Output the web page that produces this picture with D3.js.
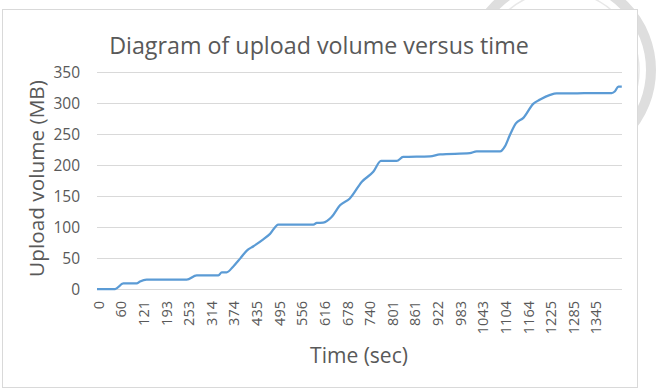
<!DOCTYPE html>
<html>
<head>
<meta charset="utf-8">
<script src="https://cdn.jsdelivr.net/npm/d3@7"></script>
<style>
  body { margin: 0; background: #fff; }
  text { font-family: "Open Sans", sans-serif; fill: #595959; }
</style>
</head>
<body>
<div id="chart"></div>
<script>
// category labels shown on the x axis (seconds)
var timeLabels = [0, 60, 121, 193, 253, 314, 374, 435, 495, 556, 616, 678, 740, 801,
                  861, 922, 983, 1043, 1104, 1164, 1225, 1285, 1345];
var yTicks = [0, 50, 100, 150, 200, 250, 300, 350];

// upload curve
var timeSec = [0, 48, 70, 106, 115, 135, 251, 278, 336, 345,
               358, 375, 394, 412, 430, 456, 474, 496, 590, 599,
               616, 639, 662, 689, 722, 753, 774, 816, 833, 905,
               932, 1012, 1030, 1093, 1106, 1119, 1135, 1155, 1182, 1200,
               1227, 1244, 1390, 1399, 1408, 1417];
var volumeMB = [0, 0, 9, 9, 12, 15, 15, 22, 22, 27,
                27, 36, 49, 62, 69, 80, 89, 104, 104, 106.5,
                107, 116, 135, 146, 173, 189, 206.5, 206.5, 213, 214,
                217, 219, 222, 222, 230, 248, 267, 276, 299, 305.5,
                313, 315.5, 316, 319, 326.5, 326.5];

var data = timeSec.map(function (t, i) { return {t: t, v: volumeMB[i]}; });

var W = 656, H = 389;
var plotLeft = 97, plotRight = 622, plotTop = 72, plotBottom = 289;
var step = 22.62;

var svg = d3.select("#chart").append("svg")
    .attr("width", W)
    .attr("height", H);

// faint seal behind the chart box
svg.append("circle")
    .attr("cx", 560).attr("cy", 70).attr("r", 91)
    .style("fill", "none")
    .style("stroke", "#dedede")
    .style("stroke-width", 10);
svg.append("circle")
    .attr("cx", 560).attr("cy", 70).attr("r", 79)
    .style("fill", "none")
    .style("stroke", "#e8e8e8")
    .style("stroke-width", 1.5);

// chart box
svg.append("rect")
    .attr("x", 2.5).attr("y", 9.5)
    .attr("width", 635).attr("height", 378)
    .style("fill", "#fff")
    .style("stroke", "#d9d9d9")
    .style("stroke-width", 1);

// category axis: labels evenly spaced, so piecewise linear scale
var x = d3.scaleLinear()
    .domain(timeLabels)
    .range(timeLabels.map(function (d, i) { return plotLeft + i * step; }));

var y = d3.scaleLinear()
    .domain([0, 350])
    .range([plotBottom, plotTop]);

// gridlines
svg.append("g")
    .selectAll("line")
    .data(yTicks)
    .enter()
    .append("line")
    .attr("x1", plotLeft).attr("x2", plotRight)
    .attr("y1", function (d) { return Math.round(y(d)) + 0.5; })
    .attr("y2", function (d) { return Math.round(y(d)) + 0.5; })
    .style("stroke", "#d9d9d9")
    .style("stroke-width", 1);

// y tick labels
svg.append("g")
    .selectAll("text")
    .data(yTicks)
    .enter()
    .append("text")
    .attr("x", 80)
    .attr("y", function (d) { return y(d); })
    .attr("dy", "0.36em")
    .style("text-anchor", "end")
    .style("font-size", "15.5px")
    .text(function (d) { return d; });

// x tick labels (rotated)
svg.append("g")
    .selectAll("text")
    .data(timeLabels)
    .enter()
    .append("text")
    .attr("transform", function (d) { return "translate(" + (x(d) + 1.5) + ",301) rotate(-90)"; })
    .attr("dy", "0.36em")
    .style("text-anchor", "end")
    .style("font-size", "14.5px")
    .text(function (d) { return d; });

// the curve
var line = d3.line()
    .x(function (d) { return x(d.t); })
    .y(function (d) { return y(d.v); })
    .curve(d3.curveMonotoneX);

svg.append("path")
    .datum(data)
    .attr("d", line)
    .style("fill", "none")
    .style("stroke", "#5b9bd5")
    .style("stroke-width", 2.25)
    .style("stroke-linejoin", "round");

function fitText(sel, target) {
  var w = sel.node().getComputedTextLength();
  var fs = parseFloat(sel.style("font-size"));
  sel.style("font-size", (fs * target / w) + "px");
}

var title = svg.append("text")
    .attr("x", 319)
    .attr("y", 54)
    .style("text-anchor", "middle")
    .style("font-size", "22px")
    .text("Diagram of upload volume versus time");
fitText(title, 420);

var yTitle = svg.append("text")
    .attr("transform", "translate(36,178.5) rotate(-90)")
    .attr("dy", "0.36em")
    .style("text-anchor", "middle")
    .style("font-size", "20px")
    .text("Upload volume (MB)");
fitText(yTitle, 197);

var xTitle = svg.append("text")
    .attr("x", 359)
    .attr("y", 363)
    .style("text-anchor", "middle")
    .style("font-size", "19px")
    .text("Time (sec)");
fitText(xTitle, 98);
</script>
</body>
</html>
